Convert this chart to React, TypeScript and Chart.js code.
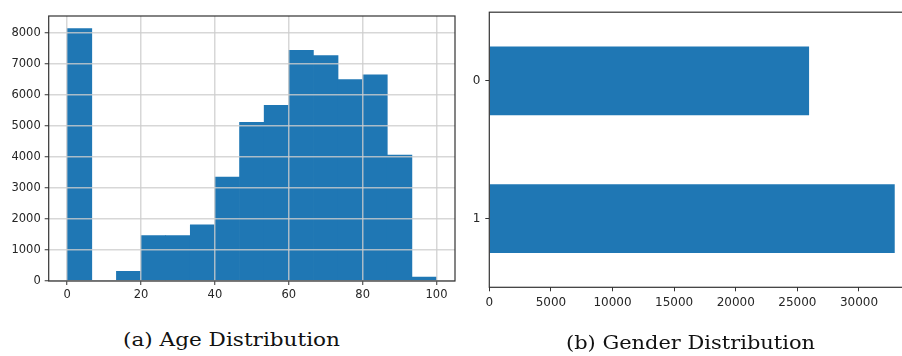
import React, { useEffect, useLayoutEffect, useRef } from "react";
import { Chart, registerables } from "chart.js";

Chart.register(...registerables);

// ---- data ----
const ageBinEdges = [0, 6.667, 13.333, 20, 26.667, 33.333, 40, 46.667, 53.333, 60, 66.667, 73.333, 80, 86.667, 93.333, 100];
const ageCounts = [8130, 0, 310, 1465, 1465, 1810, 3350, 5110, 5660, 7430, 7265, 6490, 6640, 4055, 130];
const ageXTicks = [0, 20, 40, 60, 80, 100];
const ageYTicks = [0, 1000, 2000, 3000, 4000, 5000, 6000, 7000, 8000];

const genderCategories = ["0", "1"];
const genderCounts = [25950, 32900];
const genderXTicks = [0, 5000, 10000, 15000, 20000, 25000, 30000];

const captionA = "(a) Age Distribution";
const captionB = "(b) Gender Distribution";

// ---- styles ----
const BLUE = "#1f77b4";
const GRID = "rgba(205,205,205,0.8)";
const SPINE = "#333333";
const TEXT = "#262626";

const boxPlugin = {
  id: "box",
  afterDraw(chart: any) {
    const { ctx, chartArea: a } = chart;
    ctx.save();
    ctx.strokeStyle = SPINE;
    ctx.lineWidth = 1.2;
    ctx.strokeRect(a.left, a.top, a.right - a.left, a.bottom - a.top);
    ctx.restore();
  },
};

function AgeChart() {
  const ref = useRef<HTMLCanvasElement>(null);
  useEffect(() => {
    const font = { family: "DejaVu Sans", size: 11.5 };
    const chart = new Chart(ref.current!, {
      type: "bar",
      data: {
        datasets: [
          {
            data: ageCounts.map((c, i) => ({ x: (ageBinEdges[i] + ageBinEdges[i + 1]) / 2, y: c })),
            backgroundColor: BLUE,
            borderWidth: 0,
            barPercentage: 1,
            categoryPercentage: 1,
          } as any,
        ],
      },
      options: {
        responsive: false,
        animation: false,
        layout: { padding: { top: 16, right: 15, left: 0, bottom: 0 } },
        plugins: { legend: { display: false }, tooltip: { enabled: false } },
        scales: {
          x: {
            type: "linear",
            offset: false,
            min: -5,
            max: 105,
            afterBuildTicks: (s: any) => {
              s.ticks = ageXTicks.map((v) => ({ value: v }));
            },
            afterFit: (s: any) => {
              s.height = 29;
            },
            grid: { offset: false, color: GRID, lineWidth: 1.5, z: 1, tickColor: SPINE, tickLength: 4, tickWidth: 1 },
            border: { display: false },
            ticks: { font, color: TEXT, padding: 3, maxRotation: 0, autoSkip: false, callback: (v: any) => String(v) },
          },
          y: {
            type: "linear",
            min: 0,
            max: Math.max(...ageCounts) * 1.05,
            afterBuildTicks: (s: any) => {
              s.ticks = ageYTicks.map((v) => ({ value: v }));
            },
            afterFit: (s: any) => {
              s.width = 48.7;
            },
            grid: { color: GRID, lineWidth: 1.5, z: 1, tickColor: SPINE, tickLength: 4, tickWidth: 1 },
            border: { display: false },
            ticks: { font, color: TEXT, padding: 4, autoSkip: false, callback: (v: any) => String(v) },
          },
        },
      } as any,
      plugins: [boxPlugin],
    });
    return () => chart.destroy();
  }, []);
  return (
    <canvas
      ref={ref}
      width={470}
      height={310}
      style={{ position: "absolute", left: 0, top: 0, width: 470, height: 310 }}
    />
  );
}

function GenderChart() {
  const ref = useRef<HTMLCanvasElement>(null);
  useEffect(() => {
    const font = { family: "DejaVu Sans", size: 12 };
    const chart = new Chart(ref.current!, {
      type: "bar",
      data: {
        labels: genderCategories,
        datasets: [
          {
            data: genderCounts,
            backgroundColor: BLUE,
            borderWidth: 0,
            barPercentage: 0.5,
            categoryPercentage: 1,
          },
        ],
      },
      options: {
        indexAxis: "y",
        responsive: false,
        animation: false,
        layout: { padding: { top: 9.3, right: 3, left: 0, bottom: 0 } },
        plugins: { legend: { display: false }, tooltip: { enabled: false } },
        scales: {
          x: {
            type: "linear",
            min: 0,
            max: Math.max(...genderCounts) * 1.05,
            afterBuildTicks: (s: any) => {
              s.ticks = genderXTicks.map((v) => ({ value: v }));
            },
            afterFit: (s: any) => {
              s.height = 32.7;
            },
            grid: { drawOnChartArea: false, tickColor: SPINE, tickLength: 4, tickWidth: 1 },
            border: { display: false },
            ticks: { font, color: TEXT, padding: 4, maxRotation: 0, autoSkip: false, callback: (v: any) => String(v) },
          },
          y: {
            type: "category",
            offset: true,
            afterFit: (s: any) => {
              s.width = 29.3;
            },
            grid: { drawOnChartArea: false, offset: false, tickColor: SPINE, tickLength: 4, tickWidth: 1 },
            border: { display: false },
            ticks: { font, color: TEXT, padding: 5 },
          },
        },
      } as any,
      plugins: [boxPlugin],
    });
    return () => chart.destroy();
  }, []);
  return (
    <canvas
      ref={ref}
      width={458}
      height={320}
      style={{ position: "absolute", left: 460, top: 0, width: 458, height: 320 }}
    />
  );
}

function Caption({ text, left, top, width }: { text: string; left: number; top: number; width: number }) {
  const ref = useRef<HTMLSpanElement>(null);
  useLayoutEffect(() => {
    const el = ref.current!;
    el.style.transform = "none";
    const w = el.getBoundingClientRect().width;
    if (w > 0) el.style.transform = `scaleX(${width / w})`;
  }, [text, width]);
  return (
    <span
      ref={ref}
      style={{
        position: "absolute",
        left,
        top,
        fontFamily: "'DejaVu Serif', serif",
        fontSize: 19,
        lineHeight: "19px",
        color: "#111",
        whiteSpace: "nowrap",
        transformOrigin: "0 0",
        display: "inline-block",
      }}
    >
      {text}
    </span>
  );
}

export default function App() {
  return (
    <div
      style={{
        position: "fixed",
        left: 0,
        top: 0,
        width: 902,
        height: 356,
        overflow: "hidden",
        background: "#ffffff",
      }}
    >
      <AgeChart />
      <GenderChart />
      <Caption text={captionA} left={122.7} top={330} width={217} />
      <Caption text={captionB} left={566} top={333} width={249} />
    </div>
  );
}
